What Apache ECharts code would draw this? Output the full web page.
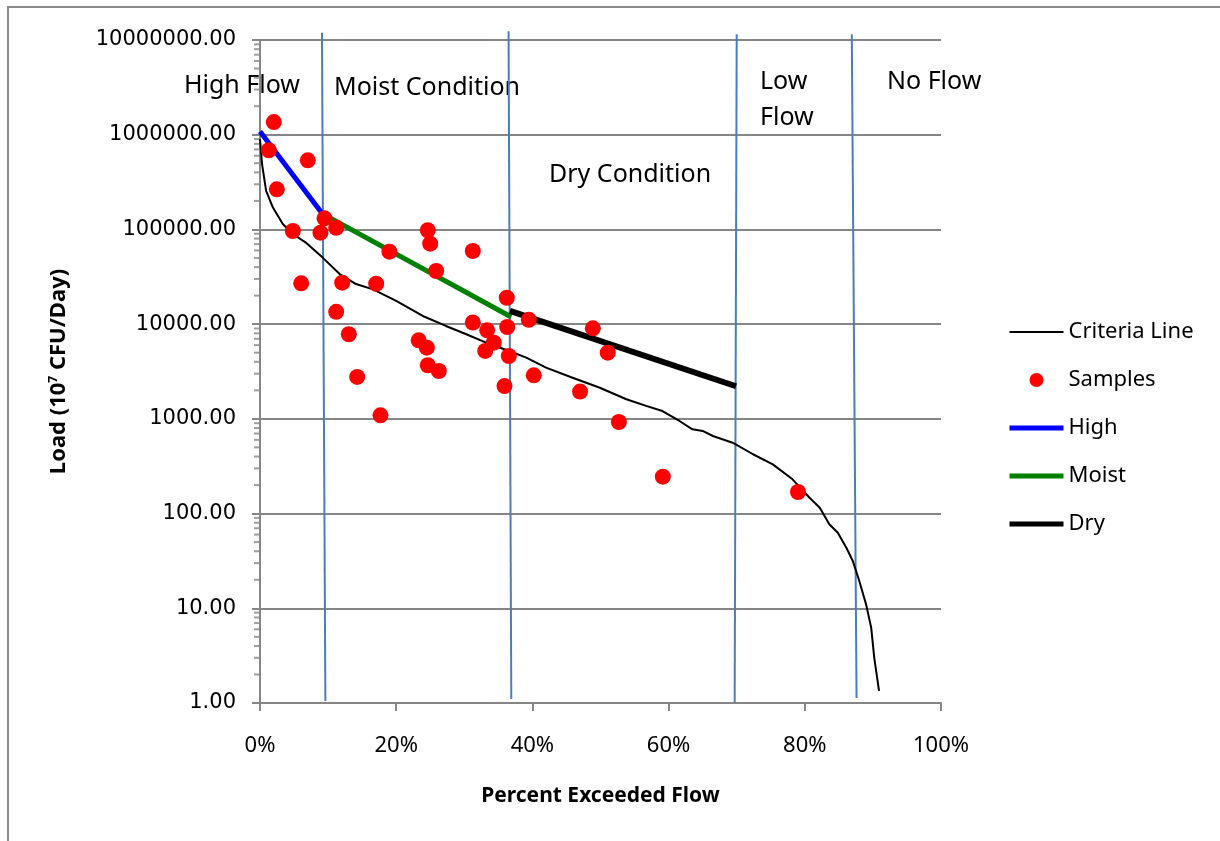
<!DOCTYPE html>
<html>
<head>
<meta charset="utf-8">
<script src="https://cdn.jsdelivr.net/npm/echarts@6.0.0/dist/echarts.min.js"></script>
<style>
    html, body { margin: 0; padding: 0; background: #fff; }
    #chart { width: 1220px; height: 841px; }
</style>
</head>
<body>
<div id="chart"></div>
<script>
// criteria curve (percent exceeded, load)
const criteriaPct = [0, 0.3, 0.9, 1.9, 3.35, 4.8, 6.8, 9.2, 11.7, 14.1, 16.6, 20.0, 23.9, 27.3, 30.3, 33.2, 36.6, 39.1, 42.0, 45.9, 49.9, 53.8, 56.7, 59.1, 61.6, 63.5, 65.0, 66.5, 69.4, 72.4, 75.3, 78.2, 80.7, 82.2, 83.6, 84.85, 86.1, 87.05, 88.0, 89.0, 89.75, 90.2, 90.9];
const criteriaLoad = [900000, 490000, 255000, 170000, 114000, 89500, 72000, 50400, 33800, 26500, 23300, 17600, 12200, 9570, 7820, 6370, 5210, 4430, 3470, 2720, 2130, 1610, 1370, 1210, 950, 776, 745, 659, 560, 423, 331, 230, 147, 115, 77, 62.8, 43.6, 31.6, 19.4, 11.0, 6.24, 3.0, 1.34];

// samples
const samplePct = [2.03, 1.29, 7.02, 2.47, 9.47, 4.82, 8.88, 11.19, 19.0, 24.64, 24.99, 25.87, 31.25, 6.05, 12.07, 17.06, 36.24, 11.19, 13.04, 31.25, 33.36, 36.3, 39.47, 48.87, 23.3, 24.5, 34.33, 33.07, 36.54, 51.07, 24.64, 26.26, 14.27, 40.2, 35.9, 47.0, 17.69, 52.7, 59.15, 79.0];
const sampleLoad = [1360000, 685000, 537000, 265000, 131000, 96300, 92400, 104000, 58200, 98000, 70800, 36400, 59200, 27000, 27400, 26700, 19000, 13500, 7820, 10400, 8610, 9330, 11100, 9040, 6750, 5650, 6370, 5210, 4610, 5000, 3680, 3200, 2770, 2880, 2220, 1940, 1090, 927, 245, 169];

// regression segments
const highPct = [0, 9.0];
const highLoad = [1080000, 152000];
const moistPct = [9.2, 36.9];
const moistLoad = [146000, 11900];
const dryPct = [36.7, 69.9];
const dryLoad = [13800, 2210];

// flow regime boundaries (top / bottom ends)
const boundaryTopPct = [9.1, 36.5, 70.0, 86.9];
const boundaryBottomPct = [9.6, 36.9, 69.7, 87.6];
const boundaryTopLoad = [11900000, 12400000, 11500000, 11500000];
const boundaryBottomLoad = [1.05, 1.1, 1.0, 1.13];

const xTicks = [0, 20, 40, 60, 80, 100];
const regionLabels = ['High Flow', 'Moist Condition', 'Dry Condition', 'Low\nFlow', 'No Flow'];

!(function (window) {
    const { echarts } = window;
    const chart = echarts.init(document.getElementById('chart'));

    const pairs = (xs, ys) => xs.map((x, i) => [x, ys[i]]);
    const gray = '#868686';

    // log minor ticks (2..9 per decade)
    const minorTicks = [];
    for (let k = 0; k < 7; k++) {
        for (let m = 2; m <= 9; m++) {
            minorTicks.push([0, m * Math.pow(10, k)]);
        }
    }

    const boundarySeries = boundaryTopPct.map((p, i) => ({
        type: 'line',
        name: 'boundary' + i,
        data: [[p, boundaryTopLoad[i]], [boundaryBottomPct[i], boundaryBottomLoad[i]]],
        symbol: 'none',
        clip: false,
        silent: true,
        lineStyle: { color: '#4A7EBB', width: 2 },
        z: 1,
    }));

    const labelPos = [[184, 86], [334, 88], [549, 175], [760, 100], [887, 82]];
    const font = 'Noto Sans';
    // hide the dot that echarts adds to line legend icons
    const lineItem = (name, width) => ({
        name,
        itemStyle: { opacity: 0 },
        lineStyle: { width },
    });

    const option = {
        backgroundColor: '#fff',
        animation: false,
        grid: { left: 260, right: 279, top: 40, bottom: 138 },
        legend: {
            orient: 'vertical',
            left: 1002,
            top: 315,
            itemWidth: 54,
            itemHeight: 14,
            itemGap: 24,
            data: [
                lineItem('Criteria Line', 2),
                { name: 'Samples' },
                lineItem('High', 5),
                lineItem('Moist', 5),
                lineItem('Dry', 5),
            ],
            textStyle: { fontFamily: font, fontSize: 22, color: '#000', lineHeight: 24 },
        },
        xAxis: {
            type: 'value',
            min: 0,
            max: 100,
            interval: 20,
            name: 'Percent Exceeded Flow',
            nameLocation: 'middle',
            nameGap: 83,
            nameTextStyle: { fontFamily: font, fontSize: 21, fontWeight: 'bold', color: '#000' },
            axisLine: { show: true, lineStyle: { color: gray, width: 2 } },
            axisTick: { show: true, length: 8, lineStyle: { color: gray, width: 2 } },
            axisLabel: {
                formatter: v => (xTicks.includes(v) ? v + '%' : ''),
                fontFamily: font, fontSize: 22, color: '#000', margin: 32,
            },
            splitLine: { show: false },
        },
        yAxis: {
            type: 'log',
            logBase: 10,
            min: 1,
            max: 10000000,
            splitNumber: 7,
            name: 'Load (10{sup|7} CFU/Day)',
            nameLocation: 'middle',
            nameGap: 190,
            nameRotate: 90,
            nameTextStyle: {
                fontFamily: font, fontSize: 22, fontWeight: 'bold', color: '#000',
                rich: { sup: { fontFamily: font, fontSize: 12, fontWeight: 'bold', color: '#000', verticalAlign: 'top', padding: [0, 0, 10, 0] } },
            },
            axisLine: { show: true, lineStyle: { color: gray, width: 2 } },
            axisTick: { show: true, length: 8, lineStyle: { color: gray, width: 2 } },
            axisLabel: {
                formatter: v => v.toFixed(2),
                fontFamily: 'DejaVu Sans', fontSize: 21, color: '#000', margin: 24,
            },
            splitLine: { show: true, lineStyle: { color: gray, width: 2 } },
        },
        graphic: [
            {
                type: 'rect',
                shape: { x: 8, y: 7, width: 1400, height: 1000 },
                style: { fill: 'none', stroke: '#8a8a8a', lineWidth: 2 },
                silent: true,
                z: -1,
            },
            ...regionLabels.map((t, i) => ({
                type: 'text',
                x: labelPos[i][0],
                y: labelPos[i][1],
                z: 0,
                style: {
                    text: t,
                    fontFamily: font,
                    fontSize: 25,
                    lineHeight: 36,
                    fill: '#000',
                    verticalAlign: 'middle',
                },
            })),
        ],
        series: [
            {
                name: 'Criteria Line',
                type: 'line',
                data: pairs(criteriaPct, criteriaLoad),
                symbol: 'none',
                lineStyle: { color: '#000', width: 2 },
                itemStyle: { color: '#000' },
                z: 3,
            },
            {
                name: 'Samples',
                type: 'scatter',
                data: pairs(samplePct, sampleLoad),
                symbolSize: 16,
                itemStyle: { color: '#FF0000', opacity: 1 },
                z: 5,
            },
            {
                name: 'High',
                type: 'line',
                data: pairs(highPct, highLoad),
                symbol: 'none',
                lineStyle: { color: '#0000FF', width: 5 },
                itemStyle: { color: '#0000FF' },
                z: 4,
            },
            {
                name: 'Moist',
                type: 'line',
                data: pairs(moistPct, moistLoad),
                symbol: 'none',
                lineStyle: { color: '#008000', width: 5 },
                itemStyle: { color: '#008000' },
                z: 4,
            },
            {
                name: 'Dry',
                type: 'line',
                data: pairs(dryPct, dryLoad),
                symbol: 'none',
                lineStyle: { color: '#000', width: 6 },
                itemStyle: { color: '#000' },
                z: 4,
            },
            {
                name: 'minor',
                type: 'scatter',
                data: minorTicks,
                symbol: 'rect',
                symbolSize: [6, 2],
                symbolOffset: [-3, 0],
                clip: false,
                silent: true,
                itemStyle: { color: gray },
                z: 2,
            },
            ...boundarySeries,
        ],
    };

    chart.setOption(option);
}(window));
</script>
</body>
</html>
